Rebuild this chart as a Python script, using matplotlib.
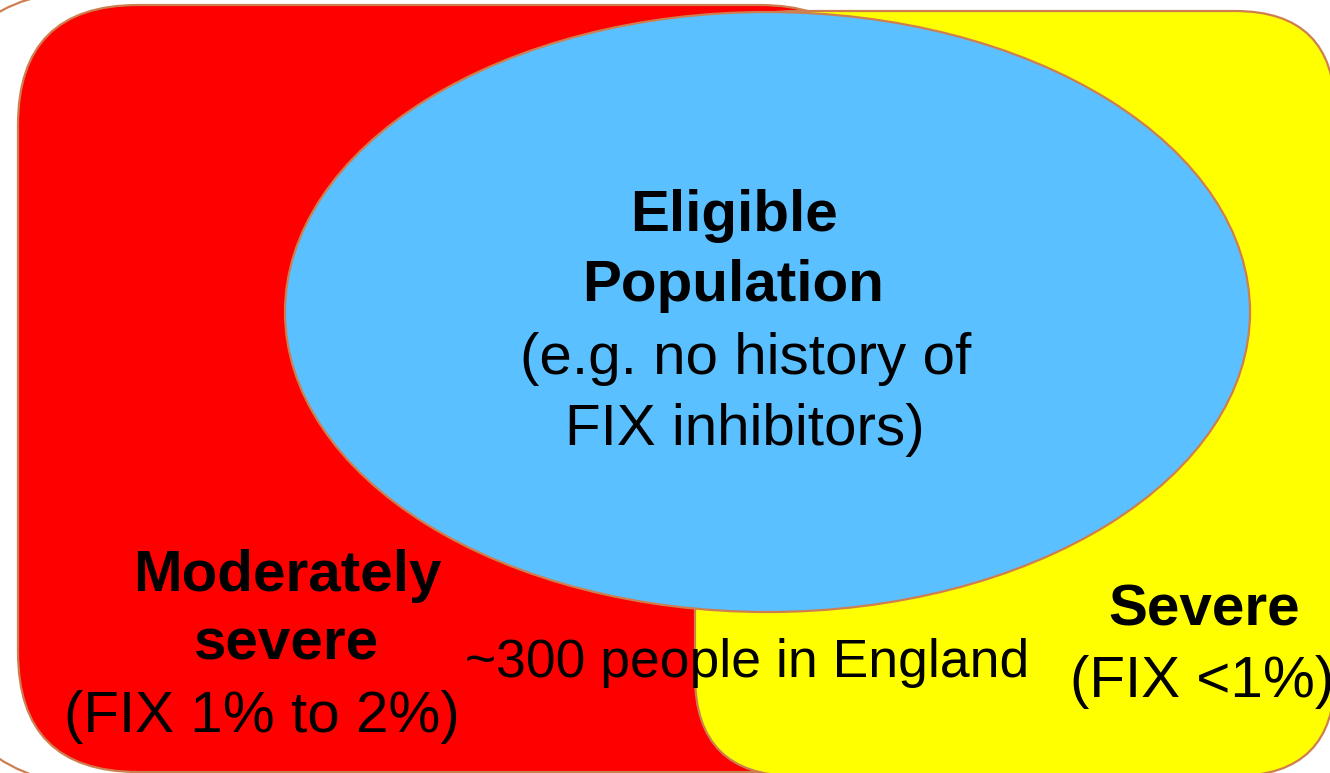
import matplotlib.pyplot as plt
from matplotlib.patches import FancyBboxPatch, Ellipse, Arc

# text content of the diagram
centre_lines = ["Eligible", "Population", "(e.g. no history of", "FIX inhibitors)"]
centre_bold = [True, True, False, False]
left_lines = ["Moderately", "severe", "(FIX 1% to 2%)"]
left_bold = [True, True, False]
right_lines = ["Severe", "(FIX <1%)"]
right_bold = [True, False]
count_label = "~300 people in England"

EDGE = "#cd7f50"
RED = "#ff0000"
YELLOW = "#ffff00"
BLUE = "#5bc0ff"

plt.rcParams['font.family'] = ['Liberation Sans', 'DejaVu Sans']

fig = plt.figure(figsize=(13.3, 7.73), dpi=100)
ax = fig.add_axes([0, 0, 1, 1])
ax.set_xlim(0, 1330)
ax.set_ylim(773, 0)
ax.axis("off")


def rounded(x, y, w, h, r, fc, z):
    box = FancyBboxPatch((x, y), w, h, boxstyle=f"round,pad=0,rounding_size={r}",
                         facecolor=fc, edgecolor=EDGE, linewidth=1.6, zorder=z)
    ax.add_patch(box)


# corners of a faint outer frame peeking out at the left edge
ax.add_patch(Arc((72, 143), 300, 300, theta1=180, theta2=270,
                 edgecolor=EDGE, linewidth=1.6, zorder=1))
ax.add_patch(Arc((81, 633), 300, 300, theta1=90, theta2=180,
                 edgecolor=EDGE, linewidth=1.6, zorder=1))

# red and yellow groups, blue eligible ellipse
rounded(18, 5, 862, 767, 120, RED, 2)
rounded(695, 11, 640, 765, 100, YELLOW, 3)
ax.add_patch(Ellipse((767.5, 312), 965, 600, facecolor=BLUE, edgecolor=EDGE,
                     linewidth=1.6, zorder=4))


def write(lines, bold, xs, ys, size=42):
    for txt, b, x, y in zip(lines, bold, xs, ys):
        ax.text(x, y, txt, ha="center", va="baseline", fontsize=size,
                fontweight="bold" if b else "normal", color="black", zorder=5)


write(centre_lines, centre_bold, [734, 733, 746, 745], [231, 301, 374, 445])
write(left_lines, left_bold, [287, 287, 262], [591, 659, 732])
write(right_lines, right_bold, [1204, 1202], [625, 697])
ax.text(747, 677, count_label, ha="center", va="baseline", fontsize=38.5, zorder=5)

fig.savefig("out.png", dpi=100)
